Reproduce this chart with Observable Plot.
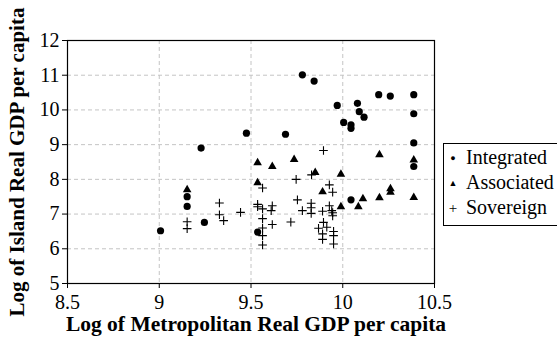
<!DOCTYPE html>
<html>
<head>
<meta charset="utf-8">
<script src="https://cdn.jsdelivr.net/npm/d3@7"></script>
<script src="https://cdn.jsdelivr.net/npm/@observablehq/plot@0.6"></script>
<style>
  html, body { margin: 0; padding: 0; background: #fff; overflow: hidden; }
  #wrap { position: relative; width: 557px; height: 341px; font-family: "Liberation Serif", "DejaVu Serif", serif; font-weight: 400; }
  #wrap svg text { font-family: "Liberation Serif", "DejaVu Serif", serif; }
  #legend { position: absolute; left: 443px; top: 143px; width: 140px; height: 83px; border: 1px solid #000; background: #fff; box-sizing: border-box; font-size: 20px; line-height: 24px; padding-top: 1px; padding-left: 2px; color: #000; white-space: nowrap; font-family: "Liberation Serif", "DejaVu Serif", serif; font-weight: normal; }
  #legend .sym { display: inline-block; width: 14px; text-align: center; font-size: 9px; vertical-align: 3px; margin-right: 6px; }
  #legend .plus { font-size: 15px; vertical-align: 1px; }
</style>
</head>
<body>
<div id="wrap"></div>
<script>
const xTicks = [8.5, 9, 9.5, 10, 10.5];
const yTicks = [5, 6, 7, 8, 9, 10, 11, 12];
const seriesNames = ["Integrated", "Associated", "Sovereign"];

const integratedX = [9.007, 9.152, 9.152, 9.228, 9.246, 9.475, 9.536, 9.688, 9.78, 9.844, 9.97, 10.005, 10.045, 10.045, 10.045, 10.08, 10.09, 10.116, 10.196, 10.259, 10.387, 10.387, 10.387, 10.387];
const integratedY = [6.52, 7.50, 7.22, 8.90, 6.76, 9.33, 6.48, 9.30, 11.01, 10.83, 10.13, 9.64, 9.57, 9.47, 7.41, 10.19, 9.95, 9.79, 10.44, 10.40, 10.44, 9.89, 9.05, 8.37];

const associatedX = [9.152, 9.536, 9.536, 9.616, 9.735, 9.85, 9.89, 9.99, 9.99, 10.085, 10.11, 10.2, 10.2, 10.26, 10.26, 10.387, 10.387];
const associatedY = [7.70, 8.48, 7.90, 8.37, 8.57, 8.20, 7.64, 8.15, 7.21, 7.21, 7.44, 7.47, 8.71, 7.73, 7.63, 8.56, 7.48];

const sovereignX = [9.152, 9.152, 9.328, 9.328, 9.351, 9.443, 9.563, 9.536, 9.536, 9.563, 9.616, 9.61, 9.563, 9.563, 9.563, 9.563, 9.616, 9.717, 9.753, 9.746, 9.78, 9.83, 9.828, 9.828, 9.828, 9.895, 9.927, 9.945, 9.89, 9.927, 9.94, 9.945, 9.945, 9.868, 9.895, 9.913, 9.95, 9.89, 9.89, 9.95, 9.95];
const sovereignY = [6.78, 6.58, 7.32, 6.98, 6.81, 7.05, 7.75, 7.28, 7.21, 7.15, 7.24, 7.10, 6.87, 6.60, 6.38, 6.11, 6.70, 6.77, 7.41, 8.00, 7.10, 8.13, 7.31, 7.18, 7.02, 8.83, 7.84, 7.63, 7.08, 7.24, 7.10, 7.04, 6.95, 6.59, 6.76, 6.62, 6.50, 6.43, 6.27, 6.38, 6.14];

const toRows = (xs, ys) => xs.map((x, i) => ({x, y: ys[i]}));
const integrated = toRows(integratedX, integratedY);
const associated = toRows(associatedX, associatedY);
const sovereign = toRows(sovereignX, sovereignY);

const serif = '"Liberation Serif", "DejaVu Serif", serif';

const chart = Plot.plot({
  width: 557,
  height: 341,
  marginLeft: 67,
  marginRight: 123,
  marginTop: 40,
  marginBottom: 58,
  style: { fontFamily: serif, background: "#fff", color: "#000", overflow: "visible" },
  x: { domain: [8.5, 10.5] },
  y: { domain: [5, 12] },
  marks: [
    Plot.gridX([9, 9.5, 10], { stroke: "#c4c4c4", strokeOpacity: 1, strokeDasharray: "4,3" }),
    Plot.gridY([6, 7, 8, 9, 10, 11], { stroke: "#c4c4c4", strokeOpacity: 1, strokeDasharray: "4,3" }),
    Plot.frame({ stroke: "#000", strokeWidth: 1.2 }),
    Plot.axisX({ ticks: xTicks, tickFormat: d => String(d), tickSize: 5, tickPadding: 6, fontSize: 20, fontFamily: serif, fontVariant: "normal", fontWeight: "normal", label: null }),
    Plot.axisY({ ticks: yTicks, tickFormat: d => String(d), tickSize: 5, tickPadding: 3, fontSize: 20, fontFamily: serif, fontVariant: "normal", fontWeight: "normal", label: null }),
    Plot.dot(integrated, { x: "x", y: "y", symbol: "circle", r: 3.6, fill: "#000", stroke: "none" }),
    Plot.dot(associated, { x: "x", y: "y", symbol: "triangle", r: 3.2, fill: "#000", stroke: "none" }),
    Plot.dot(sovereign, { x: "x", y: "y", symbol: "plus", r: 2.9, fill: "none", stroke: "#000", strokeWidth: 1.1 }),
    Plot.text(["Log of Metropolitan Real GDP per capita"], { frameAnchor: "bottom", dx: 5, dy: 47, fontSize: 21.5, fontWeight: "bold", fontFamily: serif, fill: "#000" }),
    Plot.text(["Log of Island Real GDP per capita"], { frameAnchor: "left", textAnchor: "middle", dx: -50, rotate: -90, fontSize: 21, fontWeight: "bold", fontFamily: serif, fill: "#000" })
  ]
});

const wrap = document.getElementById("wrap");
wrap.appendChild(chart);

const legend = document.createElement("div");
legend.id = "legend";
const syms = ["●", "▲", "+"];
seriesNames.forEach((name, i) => {
  const row = document.createElement("div");
  const s = document.createElement("span");
  s.className = "sym" + (i === 2 ? " plus" : "");
  s.textContent = syms[i];
  row.appendChild(s);
  row.appendChild(document.createTextNode(name));
  legend.appendChild(row);
});
wrap.appendChild(legend);
</script>
</body>
</html>
